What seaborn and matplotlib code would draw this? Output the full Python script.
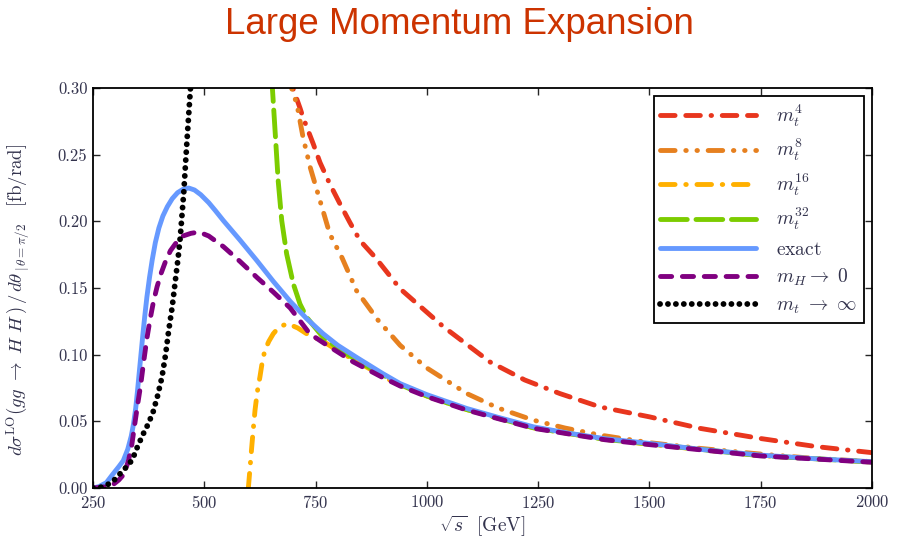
import matplotlib
matplotlib.use("Agg")
import matplotlib.pyplot as plt
import seaborn as sns
from matplotlib.ticker import FormatStrFormatter, MultipleLocator

# ---------------- data ----------------
exact_x = [250, 263, 280, 293, 308, 318, 328, 336, 341, 346, 350, 354, 358, 362, 366, 371, 377, 383,
           390, 398, 407, 417, 428, 440, 452, 465, 478, 492, 510, 525, 543, 580, 618, 655, 693, 730,
           767, 800, 842, 900, 940, 1000, 1090, 1160, 1239, 1320, 1400, 1501, 1620, 1748, 1870, 2000]
exact_y = [0.0, 0.001, 0.004, 0.0097, 0.016, 0.0205, 0.029, 0.039, 0.048, 0.060, 0.073, 0.087, 0.101,
           0.115, 0.128, 0.143, 0.158, 0.171, 0.184, 0.195, 0.204, 0.211, 0.217, 0.2215, 0.224, 0.225,
           0.2235, 0.220, 0.214, 0.208, 0.2005, 0.186, 0.1706, 0.155, 0.140, 0.127, 0.1157, 0.107,
           0.098, 0.086, 0.0783, 0.070, 0.0596, 0.053, 0.0459, 0.041, 0.037, 0.0334, 0.0288, 0.0247,
           0.022, 0.0197]

mH0_x = [250, 270, 293, 308, 316, 323, 330, 337, 343, 350, 357, 364, 371, 378, 386, 394, 403, 413,
         424, 437, 452, 470, 488, 510, 543, 580, 618, 655, 693, 737, 767, 800, 835, 900, 940, 1000,
         1090, 1239, 1400, 1501, 1748, 2000]
mH0_y = [0.0, 0.0005, 0.002, 0.006, 0.009, 0.0135, 0.021, 0.032, 0.046, 0.062, 0.077, 0.095, 0.112,
         0.126, 0.140, 0.151, 0.161, 0.170, 0.178, 0.184, 0.189, 0.191, 0.192, 0.189, 0.181, 0.170,
         0.158, 0.147, 0.135, 0.1157, 0.109, 0.102, 0.0945, 0.083, 0.0765, 0.0685, 0.0584, 0.0448,
         0.0362, 0.0325, 0.0241, 0.0193]

mtinf_x = [250, 265, 280, 295, 308, 323, 338, 350, 362, 374, 385, 395, 405, 413, 420, 428, 435, 441,
           446, 450, 454, 458, 462, 466, 470]
mtinf_y = [0.0, 0.0003, 0.002, 0.005, 0.0097, 0.015, 0.021, 0.031, 0.040, 0.048, 0.057, 0.069, 0.0833,
           0.100, 0.118, 0.136, 0.1556, 0.172, 0.188, 0.205, 0.222, 0.244, 0.265, 0.285, 0.305]

m32_x = [651, 653, 659, 666, 674, 685, 700, 715, 730, 767, 800, 842, 900, 940, 1000, 1090, 1239,
         1400, 1501, 1748, 2000]
m32_y = [0.31, 0.300, 0.268, 0.2304, 0.2005, 0.1756, 0.1531, 0.138, 0.128, 0.113, 0.105, 0.096,
         0.085, 0.0775, 0.069, 0.0588, 0.0452, 0.0365, 0.033, 0.0243, 0.0195]

m16_x = [599, 602, 606, 610, 614, 619, 625, 630, 636, 645, 655, 666, 677, 688, 710, 730, 767, 800,
         842, 900, 940, 1000, 1090, 1239, 1400, 1501, 1748, 2000]
m16_y = [0.0, 0.012, 0.0284, 0.044, 0.0584, 0.072, 0.0833, 0.094, 0.1032, 0.110, 0.1157, 0.120,
         0.122, 0.1232, 0.120, 0.1157, 0.110, 0.103, 0.095, 0.084, 0.077, 0.069, 0.0588, 0.0452,
         0.0365, 0.0328, 0.0243, 0.0195]

m8_x = [694, 696, 708, 722, 738, 760, 782, 809, 842, 890, 940, 1000, 1090, 1160, 1239, 1310, 1389,
        1500, 1614, 1748, 1870, 2000]
m8_y = [0.31, 0.300, 0.2878, 0.2628, 0.2404, 0.2155, 0.1905, 0.173, 0.148, 0.126, 0.107, 0.090,
        0.0708, 0.060, 0.0509, 0.045, 0.0397, 0.034, 0.0297, 0.0255, 0.0222, 0.0198]

m4_x = [697, 699, 715, 722, 745, 760, 782, 805, 827, 850, 884, 940, 1037, 1142, 1220, 1299, 1389,
        1501, 1614, 1748, 1876, 2000]
m4_y = [0.31, 0.300, 0.285, 0.2778, 0.2579, 0.2441, 0.228, 0.213, 0.1992, 0.1855, 0.173, 0.1494,
        0.121, 0.0945, 0.081, 0.0708, 0.0608, 0.0533, 0.0447, 0.0372, 0.031, 0.0265]

labels = [r'$m_t^{4}$', r'$m_t^{8}$', r'$m_t^{16}$', r'$m_t^{32}$', r'$\mathrm{exact}$',
          r'$m_H \to\ 0$', r'$m_t\ \to\ \infty$']
x_ticks = [250, 500, 750, 1000, 1250, 1500, 1750, 2000]

# ---------------- style ----------------
sns.set_style("ticks")
plt.rcParams['font.family'] = ['cmr10', 'DejaVu Serif']
plt.rcParams['mathtext.fontset'] = 'cm'
plt.rcParams['axes.formatter.use_mathtext'] = True

fig = plt.figure(figsize=(9.07, 5.43), dpi=100)
ax = fig.add_axes([93 / 907, 1 - 488 / 543, (872 - 93) / 907, (488 - 88) / 543])

LW = 3.5
series = [
    (m4_x, m4_y, '#E8361E', LW, (0, (3.0, 2.2, 3.0, 2.2, 0.1, 2.2))),
    (m8_x, m8_y, '#E6801F', LW, (0, (3.0, 2.2, 0.1, 2.2, 0.1, 2.2))),
    (m16_x, m16_y, '#FFB000', LW, (0, (3.0, 2.2, 0.1, 2.2))),
    (m32_x, m32_y, '#7CCC00', LW, (0, (5.5, 1.8))),
    (exact_x, exact_y, '#6699FF', LW, '-'),
    (mH0_x, mH0_y, '#800080', LW, (0, (2.3, 2.2))),
    (mtinf_x, mtinf_y, '#000000', 4.2, (0, (0.01, 1.35))),
]
for (xs, ys, col, lw, ls), lab in zip(series, labels):
    sns.lineplot(x=xs, y=ys, ax=ax, color=col, linewidth=lw, linestyle=ls, label=lab,
                 errorbar=None, sort=False, dash_capstyle='round', solid_capstyle='round')

ax.set_xlim(250, 2000)
ax.set_ylim(0, 0.30)
ax.set_xticks(x_ticks)
ax.yaxis.set_major_locator(MultipleLocator(0.05))
ax.yaxis.set_major_formatter(FormatStrFormatter('%.2f'))
ax.tick_params(direction='in', length=5, width=1.0, top=True, right=True,
               labelsize=12, labelcolor='#33334d', pad=4)
for s in ax.spines.values():
    s.set_linewidth(1.3)
    s.set_color('black')

ax.set_xlabel(r'$\sqrt{s}\ \ [\mathrm{GeV}]$', fontsize=14, color='#33334d', labelpad=2)
ax.set_ylabel(r'$d\sigma^{\mathrm{LO}}(gg\ \to\ H\ H\,)\,/\,d\theta\,\left|_{\theta=\pi/2}\right.\quad[\mathrm{fb/rad}]$',
              fontsize=13.5, color='#33334d')
ax.yaxis.set_label_coords(-0.078, 0.47)

leg = ax.legend(loc='upper right', fontsize=14, handlelength=4.9, handletextpad=1.05,
                labelspacing=0.43, borderpad=0.35, borderaxespad=0.4, fancybox=False,
                framealpha=1, edgecolor='black')
leg.get_frame().set_linewidth(1.3)
for t in leg.get_texts():
    t.set_color('#33334d')

fig.text(0.507, 0.955, 'Large Momentum Expansion', ha='center', va='center',
         fontsize=26.5, color='#CC3300', family='Liberation Sans')

fig.savefig('out.png', dpi=100)
